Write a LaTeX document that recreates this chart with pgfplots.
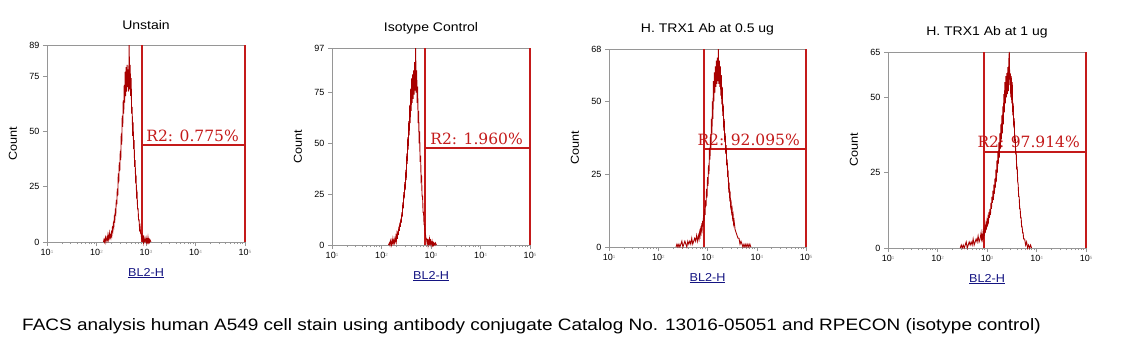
\documentclass[border=0pt]{standalone}
\usepackage{fontspec}
\setmainfont{Liberation Sans}
\newfontfamily\gatefont{DejaVu Serif}
\usepackage{pgfplots}
\pgfplotsset{compat=1.18}
\definecolor{histred}{RGB}{168,0,0}
\definecolor{gatered}{RGB}{196,26,26}
\definecolor{labelblue}{RGB}{20,20,130}
\definecolor{axgray}{RGB}{150,150,150}
\newcommand{\dec}[1]{10{\fontsize{4.5}{5}\selectfont\color{axgray}\raisebox{0.9ex}{#1}}}
\pgfplotsset{facs/.style={
  scale only axis, width=198pt, height=197pt,
  xmin=1, xmax=5, ymin=0, clip=false,
  /pgf/number format/assume math mode=true,
  axis line style={axgray, line width=0.5pt},
  xtick={1,2,3,4,5},
  xticklabels={\dec{1},\dec{2},\dec{3},\dec{4},\dec{5}},
  minor xtick={1.301,1.477,1.602,1.699,1.778,1.845,1.903,1.954,
               2.301,2.477,2.602,2.699,2.778,2.845,2.903,2.954,
               3.301,3.477,3.602,3.699,3.778,3.845,3.903,3.954,
               4.301,4.477,4.602,4.699,4.778,4.845,4.903,4.954},
  minor y tick num=4,
  tick align=outside, xtick pos=bottom, ytick pos=left,
  major tick length=4pt, minor tick length=2pt,
  tick style={axgray, line width=0.5pt},
  tick label style={font=\fontsize{9}{9}\selectfont, text=black},
  hist/.style={histred, line width=0.9pt},
  gate/.style={gatered, line width=2pt},
}}
\newcommand{\gatelabel}[1]{{\color{gatered}\gatefont\fontsize{15.5}{16}\selectfont #1}}
\newcommand{\ptitle}[1]{\scalebox{1.12}[1]{\fontsize{12.5}{13}\selectfont #1}}
\newcommand{\plabel}[1]{\scalebox{1.1}[1]{\fontsize{11.5}{12}\selectfont #1}}
\begin{document}
\begin{tikzpicture}
\path[use as bounding box] (0,0) rectangle (1145pt,-357pt);

% ---------- Panel 1: Unstain ----------
\begin{axis}[facs, at={(47pt,-242pt)}, anchor=south west, ymax=89, ytick={0,25,50,75,89}, yticklabels={0,25,50,75,89}]
\addplot[gate] coordinates {(2.92,0) (2.92,89)};
\addplot[gate] coordinates {(5,0) (5,89)};
\addplot[gate] coordinates {(2.92,43.8) (5,43.8)};
\node[anchor=base east, inner sep=0pt] at ([xshift=-6pt,yshift=4pt]axis cs:5,43.8) {\gatelabel{R2: 0.775\%}};
\addplot[hist] table[row sep=\\] {x y\\
2.14 0\\2.15 1\\2.16 0\\2.17 1\\2.18 2\\2.19 0\\2.20 1\\2.21 2\\2.22 1\\2.23 3\\2.24 1\\2.25 2\\2.26 4\\2.27 2\\2.28 3\\2.29 2\\2.30 4\\2.31 3\\2.32 6\\2.33 5\\2.34 8\\2.35 7\\2.36 11\\2.37 10\\2.38 14\\2.39 13\\2.40 19\\2.41 17\\2.42 24\\2.43 21\\2.44 31\\2.45 27\\2.46 36\\2.47 32\\2.48 41\\2.49 37\\2.50 49\\2.51 44\\2.52 57\\2.53 52\\2.54 64\\2.55 58\\2.56 71\\2.57 63\\2.58 77\\2.59 66\\2.60 79\\2.61 68\\2.62 80\\2.63 70\\2.64 78\\2.65 68\\2.66 89\\2.67 69\\2.68 80\\2.69 66\\2.70 74\\2.71 58\\2.72 61\\2.73 48\\2.74 54\\2.75 42\\2.76 46\\2.77 34\\2.78 37\\2.79 28\\2.80 29\\2.81 21\\2.82 22\\2.83 15\\2.84 15\\2.85 10\\2.86 10\\2.87 6\\2.88 7\\2.89 4\\2.90 4\\2.91 2\\2.92 3\\2.93 1\\2.94 2\\2.95 0\\2.96 2\\2.97 1\\2.98 0\\2.99 1\\3.00 2\\3.01 0\\3.02 1\\3.03 0\\3.04 2\\3.05 0\\3.06 1\\3.07 0\\3.08 1\\3.10 0\\
};
\node at ([yshift=20pt]rel axis cs:0.5,1) {\ptitle{Unstain}};
\node at ([xshift=-34pt]rel axis cs:0,0.5) [rotate=90] {\plabel{Count}};
\node at ([yshift=-31pt]rel axis cs:0.5,0) {\plabel{\color{labelblue}\underline{BL2-H}}};
\end{axis}

% ---------- Panel 2: Isotype Control ----------
\begin{axis}[facs, at={(332pt,-245pt)}, anchor=south west, ymax=97, ytick={0,25,50,75,97}, yticklabels={0,25,50,75,97}]
\addplot[gate] coordinates {(2.88,0) (2.88,97)};
\addplot[gate] coordinates {(5,0) (5,97)};
\addplot[gate] coordinates {(2.88,47.6) (5,47.6)};
\node[anchor=base east, inner sep=0pt] at ([xshift=-7pt,yshift=4pt]axis cs:5,47.6) {\gatelabel{R2: 1.960\%}};
\addplot[hist] table[row sep=\\] {x y\\
2.14 0\\2.16 1\\2.17 0\\2.18 2\\2.19 1\\2.20 0\\2.21 2\\2.22 1\\2.23 3\\2.24 1\\2.25 2\\2.26 1\\2.27 3\\2.28 2\\2.29 4\\2.30 2\\2.31 5\\2.32 3\\2.33 7\\2.34 5\\2.35 9\\2.36 7\\2.37 11\\2.38 9\\2.39 13\\2.40 11\\2.41 16\\2.42 14\\2.43 21\\2.44 18\\2.45 26\\2.46 23\\2.47 31\\2.48 27\\2.49 37\\2.50 32\\2.51 45\\2.52 40\\2.53 53\\2.54 47\\2.55 61\\2.56 54\\2.57 69\\2.58 60\\2.59 77\\2.60 66\\2.61 82\\2.62 70\\2.63 84\\2.64 72\\2.65 86\\2.66 74\\2.67 90\\2.68 76\\2.69 97\\2.70 75\\2.71 86\\2.72 70\\2.73 78\\2.74 60\\2.75 66\\2.76 50\\2.77 56\\2.78 41\\2.79 44\\2.80 32\\2.81 33\\2.82 24\\2.83 24\\2.84 16\\2.85 16\\2.86 10\\2.87 10\\2.88 6\\2.89 5\\2.90 3\\2.91 3\\2.92 1\\2.93 2\\2.94 0\\2.95 2\\2.96 1\\2.97 3\\2.98 1\\2.99 2\\3.00 0\\3.01 1\\3.02 2\\3.03 0\\3.04 1\\3.05 0\\3.06 1\\3.08 0\\3.09 1\\3.11 0\\
};
\node at ([yshift=20pt]rel axis cs:0.5,1) {\ptitle{Isotype Control}};
\node at ([xshift=-34pt]rel axis cs:0,0.5) [rotate=90] {\plabel{Count}};
\node at ([yshift=-31pt]rel axis cs:0.5,0) {\plabel{\color{labelblue}\underline{BL2-H}}};
\end{axis}

% ---------- Panel 3: 0.5 ug ----------
\begin{axis}[facs, at={(609pt,-247pt)}, anchor=south west, width=197pt, height=198pt, ymax=68, ytick={0,25,50,68}, yticklabels={0,25,50,68}]
\addplot[gate] coordinates {(2.93,0) (2.93,68)};
\addplot[gate] coordinates {(5,0) (5,68)};
\addplot[gate] coordinates {(2.93,33.5) (5,33.5)};
\node[anchor=base east, inner sep=0pt] at ([xshift=-6pt,yshift=4pt]axis cs:5,33.5) {\gatelabel{R2: 92.095\%}};
\addplot[hist] table[row sep=\\] {x y\\
2.36 0\\2.38 1\\2.40 0\\2.42 1\\2.44 0\\2.46 1\\2.48 2\\2.50 0\\2.52 1\\2.54 2\\2.56 1\\2.58 0\\2.60 2\\2.62 1\\2.64 2\\2.66 1\\2.68 3\\2.70 1\\2.72 2\\2.74 3\\2.76 2\\2.78 4\\2.80 2\\2.81 3\\2.82 4\\2.83 3\\2.84 5\\2.85 4\\2.86 6\\2.87 5\\2.88 7\\2.89 6\\2.90 9\\2.91 7\\2.92 11\\2.93 9\\2.94 13\\2.95 11\\2.96 16\\2.97 14\\2.98 20\\2.99 17\\3.00 24\\3.01 21\\3.02 28\\3.03 25\\3.04 34\\3.05 30\\3.06 38\\3.07 34\\3.08 44\\3.09 39\\3.10 50\\3.11 44\\3.12 57\\3.13 50\\3.14 60\\3.15 53\\3.16 62\\3.17 55\\3.18 64\\3.19 56\\3.20 65\\3.21 57\\3.22 68\\3.23 56\\3.24 64\\3.25 55\\3.26 62\\3.27 52\\3.28 59\\3.29 49\\3.30 55\\3.31 45\\3.32 49\\3.33 40\\3.34 44\\3.35 36\\3.36 39\\3.37 32\\3.38 35\\3.39 28\\3.40 30\\3.41 24\\3.42 25\\3.43 20\\3.44 21\\3.45 17\\3.46 18\\3.47 14\\3.48 15\\3.49 12\\3.50 13\\3.51 10\\3.52 11\\3.53 8\\3.54 9\\3.56 6\\3.58 5\\3.60 4\\3.62 3\\3.64 3\\3.66 1\\3.68 2\\3.70 1\\3.72 0\\3.74 1\\3.76 0\\3.78 1\\3.80 0\\3.82 1\\3.84 0\\3.86 1\\3.88 0\\
};
\node at ([yshift=20pt]rel axis cs:0.5,1) {\ptitle{H. TRX1 Ab at 0.5 ug}};
\node at ([xshift=-34pt]rel axis cs:0,0.5) [rotate=90] {\plabel{Count}};
\node at ([yshift=-31pt]rel axis cs:0.5,0) {\plabel{\color{labelblue}\underline{BL2-H}}};
\end{axis}

% ---------- Panel 4: 1 ug ----------
\begin{axis}[facs, at={(888pt,-248pt)}, anchor=south west, width=198pt, height=196pt, ymax=65, ytick={0,25,50,65}, yticklabels={0,25,50,65}]
\addplot[gate] coordinates {(2.93,0) (2.93,65)};
\addplot[gate] coordinates {(5,0) (5,65)};
\addplot[gate] coordinates {(2.93,31.9) (5,31.9)};
\node[anchor=base east, inner sep=0pt] at ([xshift=-6pt,yshift=4pt]axis cs:5,31.9) {\gatelabel{R2: 97.914\%}};
\addplot[hist] table[row sep=\\] {x y\\
2.46 0\\2.48 1\\2.50 0\\2.52 1\\2.54 0\\2.56 1\\2.58 2\\2.60 0\\2.62 1\\2.64 2\\2.66 1\\2.68 2\\2.70 1\\2.72 3\\2.74 1\\2.76 2\\2.78 3\\2.80 2\\2.82 4\\2.84 2\\2.86 3\\2.88 5\\2.89 3\\2.90 4\\2.91 3\\2.92 5\\2.93 4\\2.94 6\\2.95 5\\2.96 7\\2.97 6\\2.98 8\\2.99 7\\3.00 9\\3.01 8\\3.02 10\\3.03 9\\3.04 12\\3.05 10\\3.06 13\\3.07 11\\3.08 15\\3.09 13\\3.10 17\\3.11 15\\3.12 19\\3.13 16\\3.14 21\\3.15 18\\3.16 23\\3.17 20\\3.18 26\\3.19 22\\3.20 29\\3.21 25\\3.22 32\\3.23 28\\3.24 35\\3.25 30\\3.26 38\\3.27 33\\3.28 41\\3.29 36\\3.30 44\\3.31 38\\3.32 47\\3.33 41\\3.34 51\\3.35 45\\3.36 55\\3.37 48\\3.38 57\\3.39 50\\3.40 58\\3.41 51\\3.42 60\\3.43 52\\3.44 62\\3.45 65\\3.46 54\\3.47 58\\3.48 50\\3.49 57\\3.50 48\\3.51 55\\3.52 44\\3.53 48\\3.54 40\\3.55 43\\3.56 35\\3.57 37\\3.58 31\\3.59 32\\3.60 26\\3.61 27\\3.62 22\\3.63 21\\3.64 17\\3.65 17\\3.66 13\\3.67 13\\3.68 10\\3.69 10\\3.70 7\\3.71 7\\3.72 5\\3.73 5\\3.74 3\\3.76 3\\3.78 1\\3.80 2\\3.82 0\\3.84 1\\3.86 0\\3.88 1\\3.90 0\\
};
\node at ([yshift=20pt]rel axis cs:0.5,1) {\ptitle{H. TRX1 Ab at 1 ug}};
\node at ([xshift=-34pt]rel axis cs:0,0.5) [rotate=90] {\plabel{Count}};
\node at ([yshift=-31pt]rel axis cs:0.5,0) {\plabel{\color{labelblue}\underline{BL2-H}}};
\end{axis}

% ---------- caption ----------
\node[anchor=west, inner sep=0pt] at (22pt,-326pt) {\scalebox{1.15}[1]{\fontsize{16.5}{18}\selectfont FACS analysis human A549 cell stain using antibody conjugate Catalog No. 13016-05051 and RPECON (isotype control)}};
\end{tikzpicture}
\end{document}
